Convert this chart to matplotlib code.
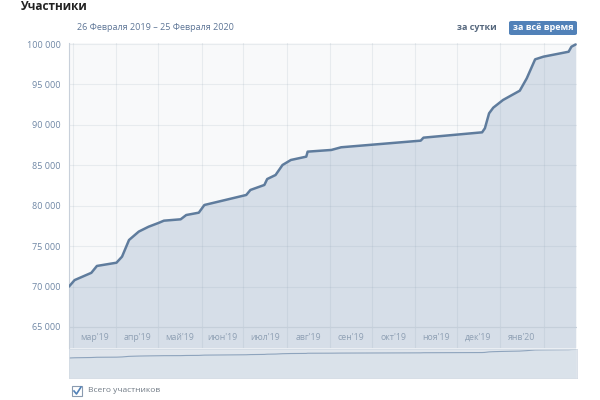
import numpy as np
import matplotlib.pyplot as plt
import matplotlib.dates as mdates
from matplotlib.patches import FancyBboxPatch, Rectangle
from datetime import datetime

plt.rcParams['font.family'] = ['Open Sans', 'DejaVu Sans']

# members over time
dates = ["2019-02-26", "2019-03-02", "2019-03-14", "2019-03-18", "2019-04-01",
         "2019-04-05", "2019-04-10", "2019-04-17", "2019-04-24", "2019-05-01",
         "2019-05-05", "2019-05-17", "2019-05-21", "2019-05-30", "2019-06-03",
         "2019-07-03", "2019-07-06", "2019-07-16", "2019-07-18", "2019-07-24",
         "2019-07-29", "2019-08-04", "2019-08-15", "2019-08-16", "2019-09-02",
         "2019-09-09", "2019-11-05", "2019-11-07", "2019-12-19", "2019-12-21",
         "2019-12-24", "2019-12-27", "2020-01-03", "2020-01-15", "2020-01-20",
         "2020-01-26", "2020-02-01", "2020-02-19", "2020-02-21", "2020-02-24"]
members = [70000, 70800, 71700, 72550, 72950, 73700, 75760, 76800, 77400, 77860,
           78150, 78320, 78850, 79140, 80090, 81330, 81950, 82570, 83300, 83800,
           85040, 85660, 86070, 86690, 86900, 87230, 88050, 88420, 89080, 89580,
           91430, 92130, 93080, 94230, 95760, 98110, 98440, 99050, 99670, 99950]

month_labels = ["мар'19", "апр'19", "май'19", "июн'19", "июл'19", "авг'19",
                "сен'19", "окт'19", "ноя'19", "дек'19", "янв'20"]
month_starts = ["2019-03-01", "2019-04-01", "2019-05-01", "2019-06-01", "2019-07-01",
                "2019-08-01", "2019-09-01", "2019-10-01", "2019-11-01", "2019-12-01",
                "2020-01-01", "2020-02-01"]
yticks = [65000, 70000, 75000, 80000, 85000, 90000, 95000, 100000]

x = [datetime.strptime(d, "%Y-%m-%d") for d in dates]
ms = [datetime.strptime(d, "%Y-%m-%d") for d in month_starts]
x0, x1 = datetime(2019, 2, 26), datetime(2020, 2, 25)

line_c = '#5f7c9d'
fill_c = '#d6dee8'
lab_c = '#6f87a5'

fig = plt.figure(figsize=(6, 4), dpi=100)
fig.patch.set_facecolor('white')

# main chart
ax = fig.add_axes([69/600, 1 - 348/400, 508/600, 305/400])
ax.set_facecolor('#f8f9fa')
ax.fill_between(x, members, 62400, color=fill_c, lw=0, zorder=1)
ax.plot(x, members, color=line_c, lw=1.8, zorder=3, solid_capstyle='round')
ax.set_xlim(x0, x1)
ax.set_ylim(62400, 100130)
ax.set_yticks(yticks)
ax.set_yticklabels([f"{v:,}".replace(",", " ") for v in yticks])
ax.tick_params(axis='y', length=0, labelsize=6.5, labelcolor=lab_c, pad=6)
ax.set_xticks(ms)
ax.tick_params(axis='x', length=0, labelbottom=False)
ax.grid(True, color='#8a9bb0', alpha=0.15, lw=0.8, zorder=2)
for s in ['top', 'right', 'bottom']:
    ax.spines[s].set_visible(False)
ax.spines['left'].set_color('#c8d0da')
ax.spines['left'].set_linewidth(0.8)

# month labels inside the bottom band
ax.axhline(65000, color='#c5cfda', lw=0.8, zorder=2)
for i, lab in enumerate(month_labels):
    mid = ms[i] + (ms[i + 1] - ms[i]) / 2
    ax.text(mid, 63700, lab, ha='center', va='center', fontsize=6.3,
            color='#8fa0b4', zorder=4)

# navigator strip
nav = fig.add_axes([69/600, 1 - 378/400, 508/600, 29/400])
nav.set_facecolor('#dfe5ec')
nav.fill_between(x, members, 0, color='#dae2ea', lw=0)
nav.plot(x, members, color='#8ea4bd', lw=0.8)
nav.set_xlim(x0, x1)
nav.set_ylim(0, 101500)
nav.set_xticks([])
nav.set_yticks([])
for s in nav.spines.values():
    s.set_color('#d3dbe4')
    s.set_linewidth(0.6)

# texts
fig.text(20/600, 1 - 6/400, "Участники", fontsize=8.5, fontweight='bold',
         color='#222222', va='center')
fig.text(77/600, 1 - 27/400, "26 Февраля 2019 – 25 Февраля 2020", fontsize=6.5,
         color='#5d7596', va='center')
fig.text(477/600, 1 - 28/400, "за сутки", fontsize=6.5, fontweight='bold',
         color='#55677d', va='center', ha='center')
btn = FancyBboxPatch((509/600, 1 - 35/400), 68/600, 14/400,
                     boxstyle="round,pad=0,rounding_size=0.004",
                     transform=fig.transFigure, facecolor='#5181b8', edgecolor='none')
fig.patches.append(btn)
fig.text(543/600, 1 - 28/400, "за всё время", fontsize=6.5, fontweight='bold',
         color='white', va='center', ha='center')

# checkbox legend
cb = Rectangle((72/600, 1 - 396/400), 10/600, 10/400, transform=fig.transFigure,
               facecolor='white', edgecolor='#8a9bb0', lw=0.8)
fig.patches.append(cb)
fig.lines.append(plt.Line2D([74/600, 76.5/600, 81/600],
                            [1 - 391/400, 1 - 394/400, 1 - 387/400],
                            transform=fig.transFigure, color='#5181b8', lw=1.2))
fig.text(88/600, 1 - 391/400, "Всего участников", fontsize=6, color='#707a85',
         va='center')

fig.savefig("out.png", dpi=100)
